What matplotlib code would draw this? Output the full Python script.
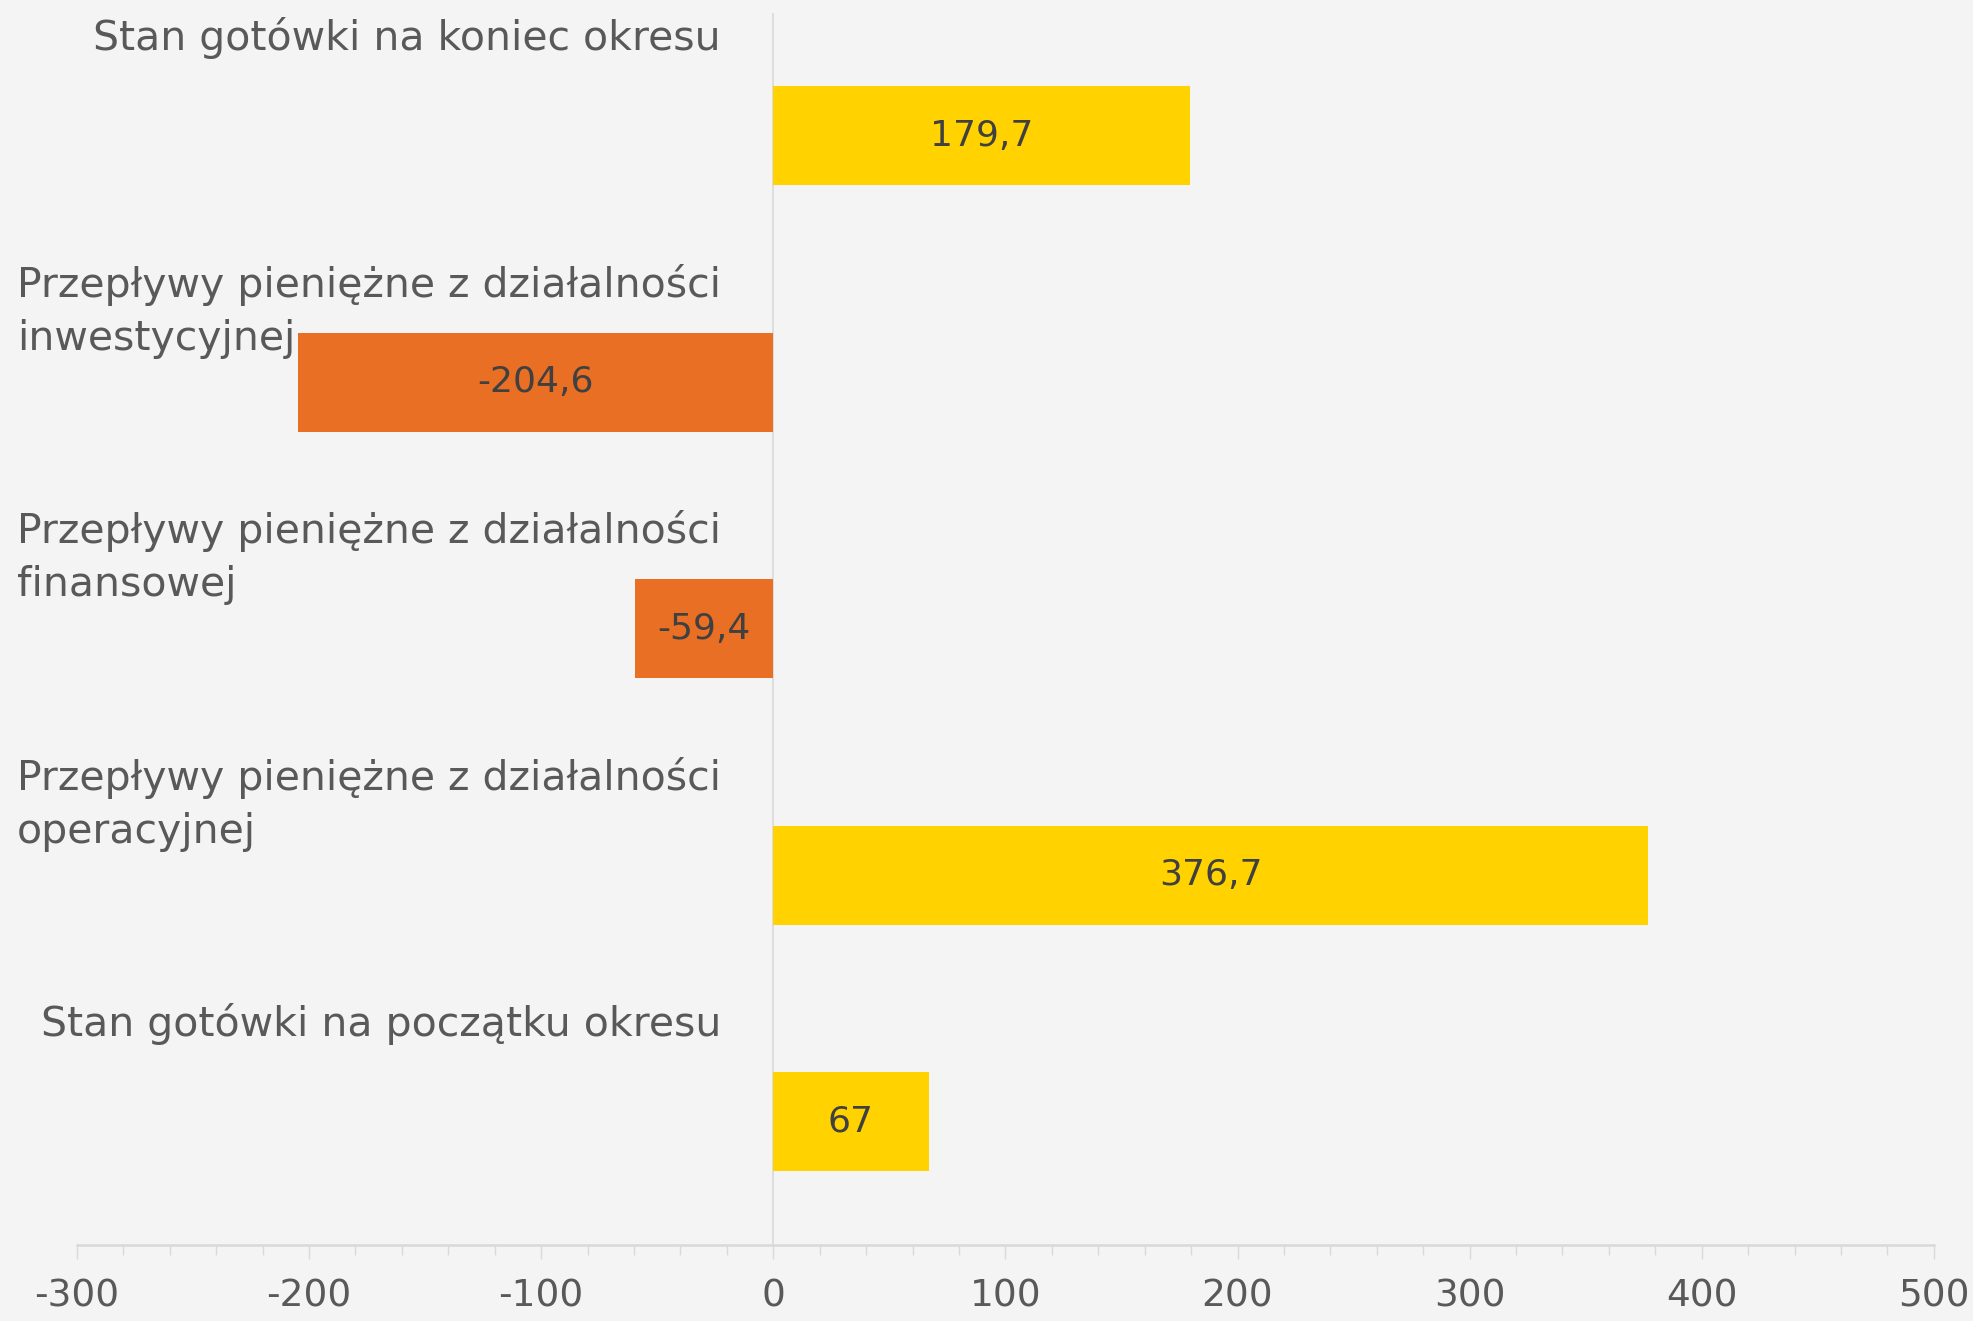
import matplotlib
matplotlib.use("Agg")
import matplotlib.pyplot as plt
import matplotlib.transforms as mtransforms
from matplotlib.ticker import MultipleLocator, FuncFormatter

# Data (bottom to top)
categories = [
    "Stan gotówki na początku okresu",
    "Przepływy pieniężne z działalności\noperacyjnej",
    "Przepływy pieniężne z działalności\nfinansowej",
    "Przepływy pieniężne z działalności\ninwestycyjnej",
    "Stan gotówki na koniec okresu",
]
values = [67, 376.7, -59.4, -204.6, 179.7]
value_labels = ["67", "376,7", "-59,4", "-204,6", "179,7"]

YELLOW = "#FFD200"
ORANGE = "#E86F24"
BG = "#F4F4F4"
GRID = "#D9D9D9"
TXT = "#595959"
VAL = "#404040"

plt.rcParams['font.family'] = ['DejaVu Sans']

fig = plt.figure(figsize=(19.74, 13.21), dpi=100, facecolor=BG)
ax = fig.add_axes([0.0389, 0.0575, 0.9408, 0.933])
ax.set_facecolor(BG)

ypos = list(range(len(categories)))
colors = [YELLOW if v >= 0 else ORANGE for v in values]
ax.barh(ypos, values, height=0.4, color=colors, zorder=2)

ax.set_xlim(-300, 500)
ax.set_ylim(-0.5, len(categories) - 0.5)

# value labels centered in bars
for y, v, lab in zip(ypos, values, value_labels):
    ax.text(v / 2, y, lab, ha='center', va='center', fontsize=26,
            color=VAL, zorder=3)

# category labels at top of each band
trans = mtransforms.blended_transform_factory(ax.transAxes, ax.transData)
for y, cat in zip(ypos, categories):
    off = mtransforms.ScaledTranslation(0, -3.5 / 72, fig.dpi_scale_trans)
    ax.text(0.3469, y + 0.5, cat, transform=trans + off, ha='right', va='top',
            multialignment='left', fontsize=29.5, color=TXT, linespacing=1.42,
            zorder=4)

# axes styling
for s in ['left', 'right', 'top']:
    ax.spines[s].set_visible(False)
ax.spines['bottom'].set_color(GRID)
ax.spines['bottom'].set_linewidth(1.8)
ax.axvline(0, color=GRID, lw=1.2, zorder=1)

ax.set_yticks([])
ax.xaxis.set_major_locator(MultipleLocator(100))
ax.xaxis.set_minor_locator(MultipleLocator(20))
ax.xaxis.set_major_formatter(FuncFormatter(lambda x, p: f"{int(x)}"))
ax.tick_params(axis='x', which='major', length=10, width=1, color=GRID,
               labelsize=27, labelcolor=TXT, pad=14)
ax.tick_params(axis='x', which='minor', length=7, width=1, color=GRID)

fig.savefig("out.png", dpi=100, facecolor=BG)
